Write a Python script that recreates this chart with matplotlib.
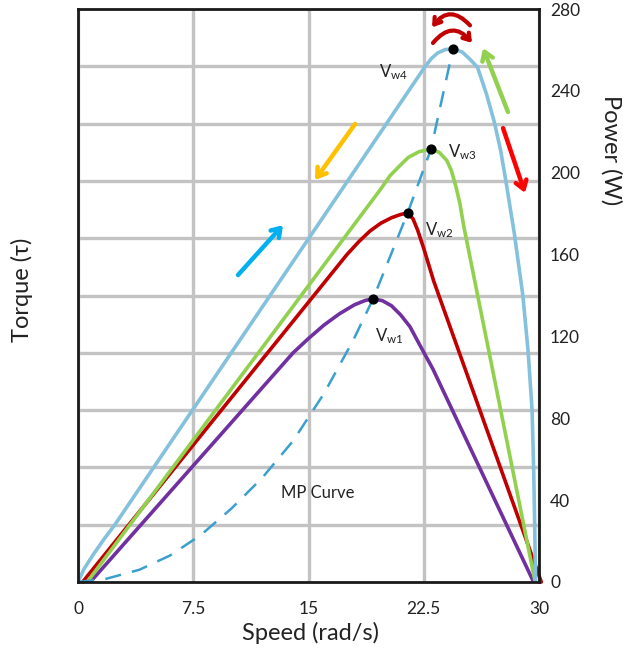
import matplotlib
matplotlib.use("Agg")
import matplotlib.pyplot as plt
import numpy as np

plt.rcParams['font.family'] = ['Lato', 'DejaVu Sans']
plt.rcParams['mathtext.fontset'] = 'custom'
plt.rcParams['mathtext.rm'] = 'Lato'
plt.rcParams['mathtext.it'] = 'Lato:italic'

# ---- data (speed in rad/s, power in W) ----
vw1_speed = [0.8, 14.0, 15.0, 16.0, 17.0, 18.0, 18.7, 19.2, 19.8, 20.4, 21.0, 21.6, 22.3, 23.1, 29.65]
vw1_power = [0, 112, 119, 125.5, 131, 135.5, 137.6, 138.3, 137.5, 135, 130.5, 124.8, 115, 104, 0]

vw2_speed = [0.3, 17.5, 18.3, 19.0, 19.7, 20.4, 21.0, 21.45, 21.8, 22.1, 22.5, 23.15, 30.15]
vw2_power = [0, 160, 166.5, 171.5, 175.3, 178, 179.6, 180.3, 177.5, 172, 163, 147, 0]

vw3_speed = [0.6, 19.0, 19.65, 20.3, 20.95, 21.5, 22.2, 22.97, 23.5, 24.0, 24.3, 24.6, 24.85, 25.1, 29.75]
vw3_power = [0, 185, 191.5, 198.5, 203.5, 207.5, 210.3, 211.5, 210, 206, 201, 193, 185, 174, 0]

vw4_speed = [0, 0.4, 1.0, 1.7, 2.4, 22.6, 23.0, 23.4, 23.9, 24.4, 25.0, 25.5, 26.0, 26.6, 27.1,
             27.5, 27.8, 28.4, 28.95, 29.3, 29.55, 29.65, 29.72, 29.77]
vw4_power = [0, 6.5, 13.5, 21, 28, 252, 255.8, 258.5, 260.2, 260.5, 259, 255.5, 251.5, 238, 224.5,
             211, 198, 170, 140, 112, 84, 56, 28, 0]

mp_speed = [0, 1.8, 4.0, 6.0, 8.0, 10.0, 12.0, 14.0, 16.0, 17.9, 19.2, 21.45, 22.97, 24.4]
mp_power = [0, 1.5, 6, 13, 23, 36, 51, 69, 92, 118, 138.3, 180.3, 211.5, 260.5]

peak_speed = [19.2, 21.45, 22.97, 24.4]
peak_power = [138.3, 180.3, 211.5, 260.5]

peak_labels = ['V$_{\\mathrm{w1}}$', 'V$_{\\mathrm{w2}}$', 'V$_{\\mathrm{w3}}$', 'V$_{\\mathrm{w4}}$']
label_speed = [19.35, 22.6, 24.1, 19.6]
label_power = [120, 172, 210, 249]

x_ticks = [0, 7.5, 15, 22.5, 30]
x_tick_labels = ['0', '7.5', '15', '22.5', '30']
power_ticks = [0, 40, 80, 120, 160, 200, 240, 280]

# arrows: (tail_x, tail_y, head_x, head_y, colour)
arrows = [
    (10.41, 150.0, 13.34, 174.4, '#00b0f0'),
    (18.03, 223.8, 15.42, 196.4, '#ffc000'),
    (27.98, 229.7, 26.36, 260.9, '#92d050'),
    (27.66, 221.8, 29.09, 190.1, '#ff0000'),
]
curved_arrows = [
    (25.51, 272.0, 23.04, 271.0, 0.6),
    (23.10, 263.4, 25.64, 263.4, -0.6),
]

fig = plt.figure(figsize=(6.23, 6.49), dpi=100)
ax = fig.add_axes([78/623, 1-582/649, (539-78)/623, (582-9)/649])

ax.set_xlim(0, 30)
ax.set_ylim(0, 280)

ax.set_xticks(x_ticks)
ax.set_xticklabels(x_tick_labels)
ax.yaxis.tick_right()
ax.set_yticks(power_ticks)
ax.set_yticks(np.arange(28, 280, 28), minor=True)
ax.tick_params(axis='both', which='both', length=0, labelsize=12.5, colors='#222222')
ax.tick_params(axis='x', pad=14)
ax.tick_params(axis='y', pad=8)
ax.grid(False)
ax.xaxis.grid(True, which='major', color='#c3c3c3', lw=2.4)
ax.yaxis.grid(True, which='minor', color='#c3c3c3', lw=2.4)
ax.set_axisbelow(True)
for s in ax.spines.values():
    s.set_linewidth(2.0)
    s.set_color('#1a1a1a')
    s.set_zorder(5)

lw = 2.6
ax.plot(vw1_speed, vw1_power, color='#7030a0', lw=lw, solid_capstyle='round', solid_joinstyle='round', zorder=3)
ax.plot(vw2_speed, vw2_power, color='#c00000', lw=lw, solid_capstyle='round', solid_joinstyle='round', zorder=3, clip_on=False)
ax.plot(vw3_speed, vw3_power, color='#92d050', lw=lw, solid_capstyle='round', solid_joinstyle='round', zorder=3)
ax.plot(vw4_speed, vw4_power, color='#84c1dc', lw=lw, solid_capstyle='round', solid_joinstyle='round', zorder=3)
ax.plot(mp_speed, mp_power, color='#3aa0d0', lw=1.8, dashes=(6.5, 4.5), zorder=4)
ax.scatter(peak_speed, peak_power, s=40, color='black', zorder=6)

for t, x, y in zip(peak_labels, label_speed, label_power):
    ax.text(x, y, t, fontsize=12, color='#222222', va='center', ha='left', zorder=6)
ax.text(13.2, 43.5, 'MP Curve', fontsize=12, color='#222222', va='center', ha='left')

for x0, y0, x1, y1, c in arrows:
    ax.annotate('', xy=(x1, y1), xytext=(x0, y0),
                arrowprops=dict(arrowstyle='->,head_length=0.6,head_width=0.4', color=c, lw=3.2,
                                shrinkA=0, shrinkB=0), zorder=7)
for x0, y0, x1, y1, r in curved_arrows:
    ax.annotate('', xy=(x1, y1), xytext=(x0, y0),
                arrowprops=dict(arrowstyle='->,head_length=0.45,head_width=0.3', color='#c00000', lw=3.0,
                                shrinkA=0, shrinkB=0, connectionstyle=f'arc3,rad={r}'), zorder=7)

fig.text(22/623, 1-290/649, 'Torque (τ)', rotation=90, fontsize=17, ha='center', va='center', color='#222222')
fig.text(611/623, 1-150/649, 'Power (W)', rotation=270, fontsize=17, ha='center', va='center', color='#222222')
fig.text(310/623, 1-633/649, 'Speed (rad/s)', fontsize=17, ha='center', va='center', color='#222222')

fig.savefig('out.png', dpi=100)
